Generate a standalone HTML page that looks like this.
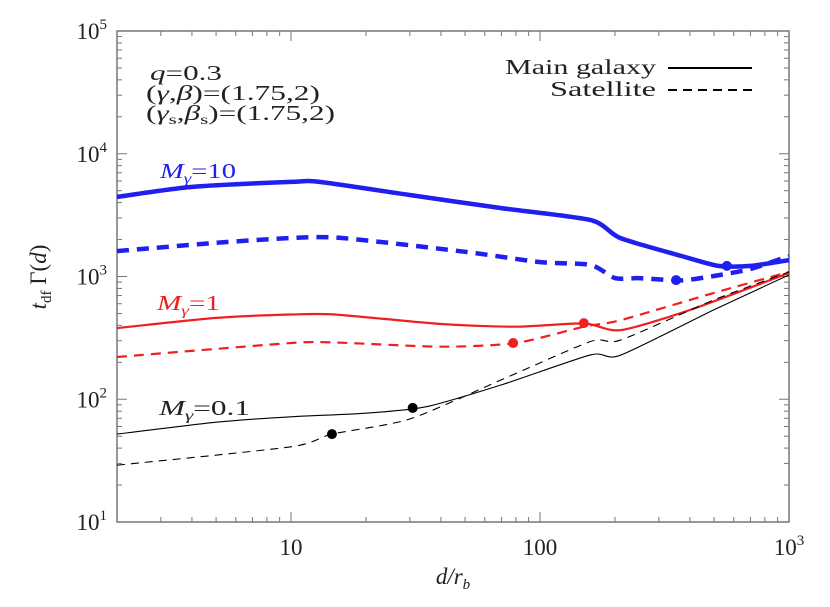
<!DOCTYPE html>
<html><head><meta charset="utf-8"><style>
body{margin:0;background:#fff}
svg{display:block;font-family:"Liberation Serif",serif}
</style></head><body>
<svg id="chart" width="830" height="607" xmlns="http://www.w3.org/2000/svg">
<g id="axes"></g>
<g id="series"></g>
<g font-size="21" fill="#222">
<text x="150" y="80" textLength="72" lengthAdjust="spacingAndGlyphs"><tspan font-style="italic">q</tspan>=0.3</text>
<text x="146" y="100" textLength="174" lengthAdjust="spacingAndGlyphs">(<tspan font-style="italic">γ</tspan>,<tspan font-style="italic">β</tspan>)=(1.75,2)</text>
<text x="146" y="120" textLength="189" lengthAdjust="spacingAndGlyphs">(<tspan font-style="italic">γ</tspan><tspan font-size="14" dy="4">s</tspan><tspan dy="-4">,</tspan><tspan font-style="italic">β</tspan><tspan font-size="14" dy="4">s</tspan><tspan dy="-4">)=(1.75,2)</tspan></text>
</g>
<g font-size="21" fill="#222">
<text x="505" y="74" textLength="151" lengthAdjust="spacingAndGlyphs">Main galaxy</text>
<line x1="668" y1="68" x2="752" y2="68" stroke="#000" stroke-width="2"/>
<text x="550" y="96" textLength="106" lengthAdjust="spacingAndGlyphs">Satellite</text>
<line x1="668" y1="90" x2="752" y2="90" stroke="#000" stroke-width="2" stroke-dasharray="9,6"/>
</g>
<g font-size="21" font-style="italic">
<text x="160" y="178" fill="#1f1ff0" textLength="76" lengthAdjust="spacingAndGlyphs">M<tspan font-size="14" dy="5">γ</tspan><tspan dy="-5" font-style="normal">=10</tspan></text>
<text x="157" y="310" fill="#f01f1f" textLength="63" lengthAdjust="spacingAndGlyphs">M<tspan font-size="14" dy="5">γ</tspan><tspan dy="-5" font-style="normal">=1</tspan></text>
<text x="159" y="415" fill="#222" textLength="91" lengthAdjust="spacingAndGlyphs">M<tspan font-size="14" dy="5">γ</tspan><tspan dy="-5" font-style="normal">=0.1</tspan></text>
</g>
<text transform="translate(46,277) rotate(-90)" font-size="23" text-anchor="middle" fill="#222"><tspan font-style="italic">t</tspan><tspan font-size="15" dy="5">df</tspan><tspan dy="-5"> Γ(</tspan><tspan font-style="italic">d</tspan>)</text>
<text x="453" y="584" font-size="23" text-anchor="middle" fill="#222" font-style="italic">d/r<tspan font-size="15" dy="5">b</tspan></text>
</svg>
<script>
const X0=117,X1=789,Y0=522,Y1=31;
const xMin=2,xMax=1000,yMin=10,yMax=1e5;
function sx(d){return X0+(Math.log10(d)-Math.log10(xMin))/(Math.log10(xMax)-Math.log10(xMin))*(X1-X0);}
function sy(v){return Y0-(Math.log10(v)-Math.log10(yMin))/(Math.log10(yMax)-Math.log10(yMin))*(Y0-Y1);}

const xTickVals=[10,100,1000];
const xTickLabels=["10","100","10³"];
const yTickVals=[10,100,1000,10000,100000];
const yTickExp=["1","2","3","4","5"];

const dBlueMain=[2,4,10,13,30,70,160,210,370,520,700,1000];
const vBlueMain=[4450,5370,5900,5900,4610,3610,2880,2060,1470,1220,1220,1360];
const dBlueSat=[2,5,10,16,50,100,160,200,250,370,500,700,1000];
const vBlueSat=[1610,1880,2060,2060,1590,1310,1240,970,970,930,1010,1150,1470];
const dRedMain=[2,5,10,15,40,80,150,210,400,1000];
const vRedMain=[380,460,490,490,410,390,415,365,533,1070];
const dRedSat=[2,10,15,40,80,150,210,500,1000];
const vRedSat=[221,287,290,268,287,390,440,735,1090];
const dBlackMain=[2,5,10,20,35,70,160,210,500,1000];
const vBlackMain=[52,65,72,77,87,131,230,228,535,1030];
const dBlackSat=[2,10,14.6,30,70,160,210,500,1000];
const vBlackSat=[29,41,52,69,144,296,303,645,1090];
const markerD=[30.8,14.6,78,150,352,563];
const markerV=[85,52,287,417,935,1220];
const markerColor=["#000","#000","#f01f1f","#f01f1f","#1f1ff0","#1f1ff0"];

const NS="http://www.w3.org/2000/svg";
const axes=document.getElementById('axes'),series=document.getElementById('series');
function mk(tag,attrs,parent){const e=document.createElementNS(NS,tag);for(const k in attrs)e.setAttribute(k,attrs[k]);parent.appendChild(e);return e;}
const ax="#777";
const frame=mk('rect',{x:X0,y:Y1,width:X1-X0,height:Y0-Y1,fill:'none',stroke:ax,'stroke-width':1.5},axes);


for(let e=0;e<=3;e++){for(let m=1;m<10;m++){const d=m*Math.pow(10,e);if(d<xMin||d>xMax)continue;const x=sx(d);const L=m===1?10:5;
mk('line',{x1:x,y1:Y0,x2:x,y2:Y0-L,stroke:ax,'stroke-width':1},axes);
mk('line',{x1:x,y1:Y1,x2:x,y2:Y1+L,stroke:ax,'stroke-width':1},axes);}}
xTickVals.forEach((v,i)=>{const t=mk('text',{x:sx(v),y:Y0+33,'font-size':23,'text-anchor':'middle',fill:'#222'},axes);


if(xTickLabels[i]==="10³"){t.innerHTML='10<tspan font-size="15" dy="-10">3</tspan>';}else t.textContent=xTickLabels[i];});
for(let e=1;e<=4;e++){for(let m=1;m<10;m++){const v=m*Math.pow(10,e);const y=sy(v);const L=m===1?10:5;
mk('line',{x1:X0,y1:y,x2:X0+L,y2:y,stroke:ax,'stroke-width':1},axes);
mk('line',{x1:X1,y1:y,x2:X1-L,y2:y,stroke:ax,'stroke-width':1},axes);}}
yTickVals.forEach((v,i)=>{const t=mk('text',{x:X0-10,y:sy(v)+8,'font-size':23,'text-anchor':'end',fill:'#222'},axes);


t.innerHTML='10<tspan font-size="15" dy="-10">'+yTickExp[i]+'</tspan>';});
function smoothPath(pts){let s='M'+pts[0][0].toFixed(1)+','+pts[0][1].toFixed(1);
for(let i=0;i<pts.length-1;i++){const p0=pts[i-1]||pts[i],p1=pts[i],p2=pts[i+1],p3=pts[i+2]||p2;const k=0.12;
const c1=[p1[0]+(p2[0]-p0[0])*k,p1[1]+(p2[1]-p0[1])*k],c2=[p2[0]-(p3[0]-p1[0])*k,p2[1]-(p3[1]-p1[1])*k];
s+=' C'+c1[0].toFixed(1)+','+c1[1].toFixed(1)+' '+c2[0].toFixed(1)+','+c2[1].toFixed(1)+' '+p2[0].toFixed(1)+','+p2[1].toFixed(1);}
return s;}
function line(ds,vs,color,w,dash,name){const pts=ds.map((d,i)=>[sx(d),sy(vs[i])]);
const el=mk('path',{d:smoothPath(pts),fill:'none',stroke:color,'stroke-width':w,'stroke-dasharray':dash||'none','stroke-linejoin':'round'},series);

}
line(dBlueMain,vBlueMain,'#1f1ff0',4.5,null,'line-m10-main');
line(dBlueSat,vBlueSat,'#1f1ff0',4.5,'12,8','line-m10-satellite');
line(dRedMain,vRedMain,'#f01f1f',2.2,null,'line-m1-main');
line(dRedSat,vRedSat,'#f01f1f',2.2,'10,7','line-m1-satellite');
line(dBlackMain,vBlackMain,'#000',1.1,null,'line-m01-main');
line(dBlackSat,vBlackSat,'#000',1.1,'8,6','line-m01-satellite');
markerD.forEach((d,i)=>{const c=mk('circle',{cx:sx(d),cy:sy(markerV[i]),r:5,fill:markerColor[i]},series);

});
</script>
</body></html>
